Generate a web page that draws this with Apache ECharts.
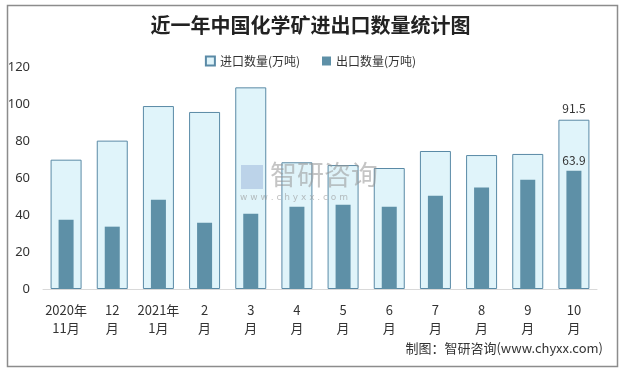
<!DOCTYPE html>
<html><head><meta charset="utf-8">
<script src="https://cdn.jsdelivr.net/npm/echarts@6/dist/echarts.min.js"></script>
<style>html,body{margin:0;padding:0;background:#fff}#c{width:621px;height:368px}</style>
</head><body><div id="c"></div>
<script>
const categories = ['2020年\n11月','12\n月','2021年\n1月','2\n月','3\n月','4\n月','5\n月','6\n月','7\n月','8\n月','9\n月','10\n月'];
const importValues = [69.9, 80.2, 98.9, 95.7, 109.0, 68.5, 67.0, 65.4, 74.6, 72.4, 73.0, 91.5];
const exportValues = [37.5, 33.7, 48.3, 35.8, 40.7, 44.5, 45.6, 44.5, 50.4, 54.8, 59.1, 63.9];
const yTicks = {min: 0, max: 120, interval: 20};
const labelIndex = 11;

const chart = echarts.init(document.getElementById('c'), null, {renderer: 'canvas'});
const lblFont = {fontFamily: '"Noto Sans CJK SC", sans-serif', fontSize: 12, color: '#333'};
chart.setOption({
  animation: false,
  title: {text: '近一年中国化学矿进出口数量统计图', left: 'center', top: 10,
    textStyle: {fontFamily: '"Noto Sans CJK SC", serif', fontSize: 20, fontWeight: 'bold', color: '#222'}},
  legend: {top: 50, left: 'center', itemWidth: 9, itemHeight: 9, itemGap: 22, icon: 'rect',
    textStyle: {fontFamily: '"Noto Sans CJK SC", sans-serif', fontSize: 12, color: '#333'},
    data: ['进口数量(万吨)', '出口数量(万吨)']},
  grid: {left: 43, right: 24, top: 67, bottom: 79},
  xAxis: [{type: 'category', data: categories,
    axisLine: {lineStyle: {color: '#d9d9d9', width: 1}}, axisTick: {show: false},
    axisLabel: {interval: 0, margin: 12, lineHeight: 18, fontSize: 13, color: '#333',
      fontFamily: '"Noto Sans CJK SC", sans-serif'}},
    {type: 'category', data: categories, show: false}],
  yAxis: {type: 'value', min: yTicks.min, max: yTicks.max, interval: yTicks.interval,
    splitLine: {show: false}, axisLine: {show: false}, axisTick: {show: false},
    axisLabel: {margin: 13, fontSize: 13, color: '#333', fontFamily: '"Noto Sans", sans-serif'}},
  series: [
    {name: '进口数量(万吨)', type: 'bar', barWidth: 31, xAxisIndex: 0,
      itemStyle: {color: '#e0f4fa', borderColor: '#5a8aa6', borderWidth: 1},
      data: importValues.map((v, i) => i === labelIndex ? {value: v, label: {show: true, position: 'top', distance: 5, ...lblFont}} : v)},
    {name: '出口数量(万吨)', type: 'bar', barWidth: 15, xAxisIndex: 1, z: 3,
      itemStyle: {color: '#5e90a7'},
      data: exportValues.map((v, i) => i === labelIndex ? {value: v, label: {show: true, position: 'top', distance: 4, ...lblFont}} : v)}
  ],
  graphic: [
    {type: 'rect', left: 5, top: 3, shape: {width: 610, height: 361}, style: {fill: 'none', stroke: '#8c8c8c', lineWidth: 1.5}, z: 100},
    {type: 'text', left: 270, top: 161, style: {text: '智研咨询', fontSize: 27, fill: 'rgba(150,150,150,0.55)', fontFamily: '"Noto Sans CJK SC", sans-serif', letterSpacing: 2}, z: 50},
    {type: 'text', left: 240, top: 193, style: {text: 'w w w . c h y x x . c o m', fontSize: 9, fill: 'rgba(150,150,150,0.6)', fontFamily: '"DejaVu Sans", sans-serif'}, z: 50},
    {type: 'rect', left: 241, top: 165, shape: {width: 22, height: 24}, style: {fill: 'rgba(120,150,200,0.35)'}, z: 50},
    {type: 'text', right: 18, top: 342, style: {text: '制图：智研咨询(www.chyxx.com)', fontSize: 13, fill: '#333', fontFamily: '"Noto Sans CJK SC", sans-serif'}}
  ]
});
</script></body></html>
